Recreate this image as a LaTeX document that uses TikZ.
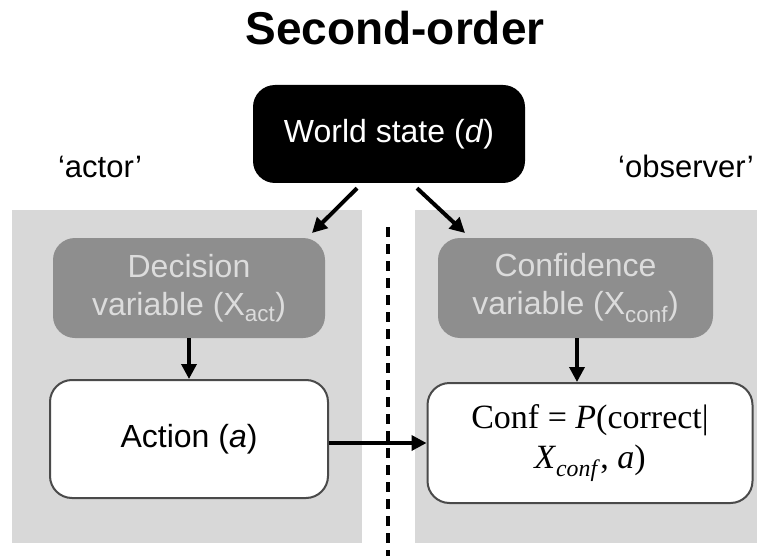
\documentclass[tikz,border=0pt]{standalone}
\usepackage{fontspec}
\setmainfont{Liberation Sans}
\newfontfamily\seriffont{Liberation Serif}
\usetikzlibrary{arrows.meta}
\definecolor{panelgray}{HTML}{D8D8D8}
\definecolor{boxgray}{HTML}{8E8E8E}
\definecolor{lighttext}{HTML}{DCDCDC}
\definecolor{edgegray}{HTML}{4A4A4A}
\tikzset{
  panel/.style={fill=panelgray, draw=none},
  rbox/.style={rounded corners=22pt, minimum width=#1, align=center, inner sep=0pt},
  worldbox/.style={rbox=272pt, fill=black, text=white, minimum height=98pt, font=\fontsize{32}{38}\selectfont},
  varbox/.style={rbox=#1, fill=boxgray, text=lighttext, minimum height=100pt, font=\fontsize{32}{38}\selectfont},
  outbox/.style={rbox=#1, fill=white, draw=edgegray, line width=2pt, minimum height=118pt},
  arr/.style={line width=3.5pt, -{Triangle[length=15pt,width=15pt]}},
  side/.style={font=\fontsize{31}{36}\selectfont, anchor=base},
}
\begin{document}
\begin{tikzpicture}[x=1pt,y=-1pt]
\useasboundingbox (0,0) rectangle (757,556);
\fill[white] (0,0) rectangle (757,556);
% panels
\path[panel] (12,210) rectangle (362,543);
\path[panel] (415,210) rectangle (757,543);
% dashed divider
\coordinate (dtop) at (388,227);
\coordinate (dbot) at (388,556);
\draw[line width=3.5pt, dash pattern=on 10pt off 7pt] (dtop) -- (dbot);
% title and side labels
\node[font=\fontsize{46}{52}\selectfont\bfseries, anchor=base] (title) at (395,45) {Second-order};
\node[side] (actor) at (100,178) {‘actor’};
\node[side] (observer) at (686,178) {‘observer’};
% nodes
\node[worldbox] (ws) at (389,134) {World state (\textit{d})};
\node[varbox=272pt] (dec) at (189,288) {Decision\\variable (X\textsubscript{act})};
\node[varbox=275pt] (cv) at (575.5,288) {Confidence\\variable (X\textsubscript{conf})};
\node[outbox=278pt, font=\fontsize{32}{38}\selectfont] (act) at (189,439) {Action (\textit{a})};
\node[outbox=325pt, minimum height=120pt, font=\seriffont\fontsize{34}{40}\selectfont] (cf) at (590,443)
  {Conf = \textit{P}(correct|\\\textit{X}\textsubscript{\textit{conf}}, \textit{a})};
% connectors
\coordinate (la) at (312,233);
\coordinate (ra) at (465,233);
\draw[arr, line width=4pt] ([xshift=-32pt,yshift=-5pt]ws.south) -- (la);
\draw[arr, line width=4pt] ([xshift=28pt,yshift=-5pt]ws.south) -- (ra);
\draw[arr] (dec.south) -- (act.north);
\draw[arr] ([xshift=1.5pt]cv.south) -- ([xshift=1.5pt]cv.south |- cf.north);
\draw[arr] ([yshift=-4pt]act.east) -- ([yshift=-4pt]act.east -| cf.west);
\end{tikzpicture}
\end{document}
